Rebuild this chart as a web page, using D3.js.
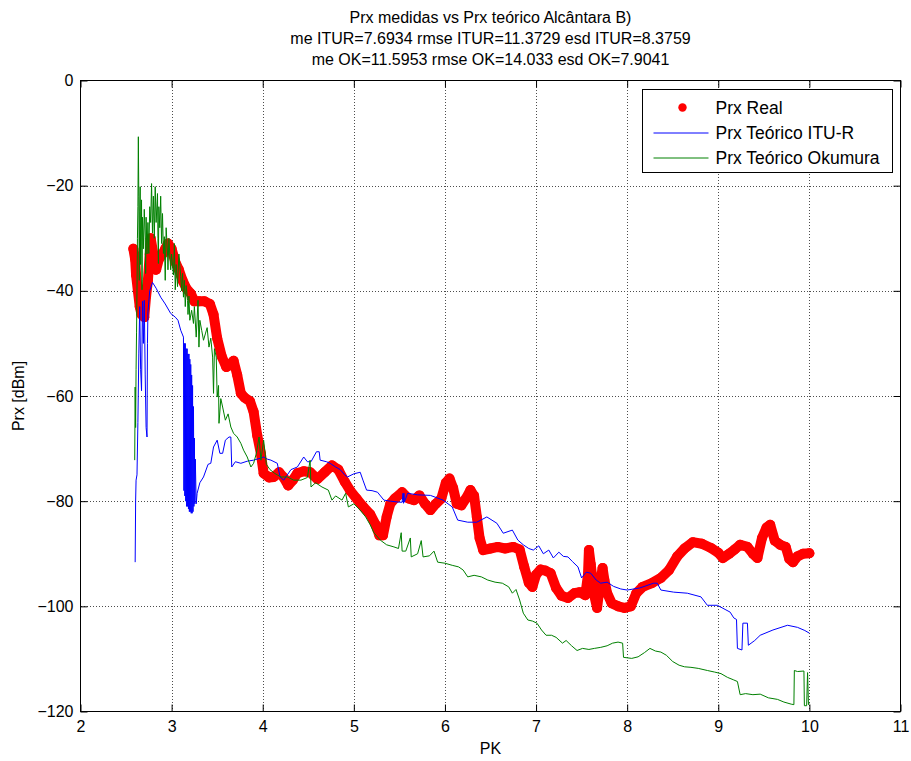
<!DOCTYPE html>
<html>
<head>
<meta charset="utf-8">
<script src="https://cdn.jsdelivr.net/npm/d3@7"></script>
<style>
  body { margin: 0; background: #fff; }
  text { font-family: "Liberation Sans", Arial, sans-serif; fill: #000; }
</style>
</head>
<body>
<svg id="chart" width="911" height="761"></svg>
<script>
// ---- data ----
const titleLines = [
  "Prx medidas vs Prx teórico Alcântara B)",
  "me ITUR=7.6934 rmse ITUR=11.3729 esd ITUR=8.3759",
  "me OK=11.5953 rmse OK=14.033 esd OK=7.9041"
];
const seriesNames = ["Prx Real", "Prx Teórico ITU-R", "Prx Teórico Okumura"];
const xTicks = [2, 3, 4, 5, 6, 7, 8, 9, 10, 11];
const yTicks = [-120, -100, -80, -60, -40, -20, 0];

// measured received power [PK, dBm]
const realPoints = [
  [2.58,-32],[2.60,-34],[2.61,-37],[2.63,-40],[2.65,-43],[2.67,-44.5],[2.69,-42],[2.70,-45],
  [2.72,-41],[2.74,-38],[2.76,-33],[2.77,-30],[2.80,-33],[2.83,-36],[2.86,-34],[2.90,-33],
  [2.93,-32],[2.96,-31],[3.00,-32],[3.04,-34.5],[3.08,-36],[3.12,-38],[3.16,-39.5],[3.21,-40.5],
  [3.25,-42],[3.30,-42],[3.36,-42],[3.42,-42.5],[3.46,-44.5],[3.50,-49],[3.55,-52.5],[3.60,-54.5],
  [3.64,-54],[3.68,-53.3],[3.72,-56],[3.76,-59.5],[3.80,-60.3],[3.86,-61],[3.90,-63],[3.94,-67.5],
  [3.98,-71],[4.01,-74.7],[4.07,-75.5],[4.12,-75.4],[4.18,-74.5],[4.23,-75.5],[4.28,-77],[4.33,-76],
  [4.38,-74.7],[4.45,-74.3],[4.52,-74.5],[4.60,-75.8],[4.68,-74.5],[4.76,-73.2],[4.83,-74],[4.90,-76.3],
  [4.96,-78],[5.03,-79.5],[5.10,-81],[5.18,-82.5],[5.24,-84.5],[5.28,-86.5],[5.32,-86.5],[5.36,-83],
  [5.40,-80.5],[5.45,-79.5],[5.53,-78.3],[5.60,-79.5],[5.66,-79.8],[5.72,-78.9],[5.78,-80.5],[5.84,-81.7],
  [5.90,-80.5],[5.96,-79.5],[6.01,-76.5],[6.05,-75.7],[6.09,-77.5],[6.13,-80.5],[6.18,-80.8],[6.23,-79.5],
  [6.28,-77.9],[6.32,-79],[6.35,-83],[6.38,-87],[6.42,-89.3],[6.50,-89],[6.58,-88.7],[6.66,-89],
  [6.75,-88.7],[6.82,-89.2],[6.87,-92.5],[6.92,-95.5],[6.96,-96.3],[7.00,-94],[7.05,-93],[7.10,-93.2],
  [7.16,-93.7],[7.22,-96.5],[7.28,-98],[7.35,-98.4],[7.42,-97.5],[7.48,-97.3],[7.54,-97.9],[7.57,-94],
  [7.58,-89.3],[7.60,-92],[7.62,-95],[7.64,-98],[7.67,-100.3],[7.70,-96],[7.73,-92.7],[7.75,-95],
  [7.78,-97.5],[7.83,-99.4],[7.90,-100],[7.97,-100.3],[8.04,-100],[8.10,-97.5],[8.17,-96.3],[8.27,-95.6],
  [8.37,-94.6],[8.46,-93.1],[8.55,-90.5],[8.63,-89],[8.72,-87.8],[8.82,-88.1],[8.92,-88.9],[9.00,-89.8],
  [9.05,-90.8],[9.12,-90],[9.18,-89.2],[9.24,-88.3],[9.32,-88.7],[9.38,-90],[9.43,-90.8],[9.48,-87],
  [9.53,-85],[9.57,-84.5],[9.62,-87.5],[9.68,-88.3],[9.74,-88.7],[9.78,-91],[9.82,-91.6],[9.87,-90.5],
  [9.93,-90],[10.0,-89.9]
];

// ITU-R prediction [PK, dBm]
const ituPoints = [
  [2.600,-91.6],[2.605,-80],[2.610,-76],[2.620,-75],[2.630,-65],[2.640,-52],[2.650,-43],[2.660,-55],
  [2.670,-59],[2.680,-42],[2.690,-50],[2.700,-41.8],[2.710,-56],[2.720,-66],[2.730,-67.8],[2.735,-50],
  [2.740,-44],[2.760,-40],[2.790,-38.4],[2.830,-39.5],[2.880,-41.2],[2.930,-42.5],[2.990,-44.3],[3.040,-45],
  [3.070,-45.6],[3.100,-47.5],[3.130,-48.8],
  [3.135,-78],[3.140,-50],[3.145,-79],[3.150,-50],[3.155,-80],[3.160,-51],[3.165,-81],[3.170,-51],
  [3.175,-81],[3.180,-52],[3.185,-81.5],[3.190,-52],[3.195,-82],[3.200,-53],[3.205,-82],[3.210,-54],
  [3.215,-82.3],[3.220,-56],[3.225,-82.3],[3.230,-58],[3.235,-82],[3.240,-62],[3.245,-81],[3.250,-68],
  [3.255,-80.5],[3.260,-72],
  [3.270,-80.5],[3.280,-78.5],[3.310,-76.5],[3.350,-75.4],[3.400,-73],[3.430,-72.8],[3.460,-69.7],[3.500,-68.4],
  [3.530,-70.9],[3.560,-70.9],[3.590,-68.4],[3.630,-67.8],[3.650,-67.8],[3.660,-73.5],[3.700,-72.5],[3.760,-72.8],
  [3.830,-72.4],[3.900,-72.2],[3.980,-71.8],[4.010,-71.6],[4.050,-72],[4.090,-72.2],[4.160,-72.8],[4.190,-75.4],
  [4.230,-76],[4.270,-75],[4.310,-74],[4.380,-73.5],[4.450,-71.6],[4.490,-72.5],[4.530,-72.5],[4.590,-70.6],
  [4.620,-70.6],[4.630,-72.2],[4.700,-72.5],[4.740,-72.8],[4.800,-73.5],[4.850,-74],[4.900,-75],[4.930,-75.4],
  [5.000,-74.8],[5.070,-74.5],[5.100,-76],[5.140,-77.9],[5.200,-78],[5.260,-78.3],[5.330,-79.8],[5.400,-80],
  [5.500,-80.2],[5.530,-80.2],[5.540,-78.5],[5.545,-80.4],[5.550,-78.5],[5.555,-80.2],[5.590,-78.5],[5.700,-78.8],
  [5.840,-78.9],[5.980,-79.8],[6.080,-81.1],[6.140,-83.6],[6.250,-84],[6.350,-84],[6.460,-83],[6.570,-84.2],
  [6.640,-86.1],[6.740,-85.5],[6.800,-87.4],[6.860,-88.3],[6.920,-89],[6.970,-89.3],[7.030,-88.5],[7.080,-90],
  [7.140,-89.3],[7.190,-90.8],[7.250,-89.7],[7.300,-90.5],[7.350,-90.6],[7.400,-91.5],[7.460,-92.5],[7.500,-94.6],
  [7.550,-93.5],[7.600,-93.7],[7.660,-95],[7.710,-95.6],[7.780,-95.4],[7.850,-96.2],[7.930,-96.7],[8.000,-96.9],
  [8.140,-96.5],[8.290,-95.6],[8.330,-95.6],[8.370,-96.9],[8.510,-97.3],[8.660,-97.5],[8.810,-98.2],[8.880,-99.8],
  [8.990,-99.8],[9.130,-101.1],[9.170,-102.2],[9.200,-102.5],[9.210,-108],[9.260,-108.3],[9.270,-103.2],[9.320,-103.2],
  [9.330,-107.4],[9.400,-106.5],[9.460,-105.5],[9.600,-104.5],[9.760,-103.6],[9.870,-104],[9.950,-104.6],[10.00,-105.1]
];

// Okumura prediction [PK, dBm]
const okuPoints = [
  [2.595,-72.2],[2.600,-58.3],[2.605,-66],[2.610,-55],[2.615,-48],[2.620,-40],[2.625,-30],[2.630,-24],
  [2.635,-10.7],[2.640,-22],[2.645,-38],[2.650,-25],[2.655,-20.2],[2.660,-35],[2.670,-22.7],[2.675,-39.8],
  [2.680,-26],[2.690,-32],[2.700,-24.5],[2.710,-29.8],[2.715,-36.7],[2.720,-26],[2.730,-33],[2.740,-27],
  [2.750,-32.9],[2.760,-24],[2.770,-27],[2.780,-19.6],[2.790,-29],[2.800,-22],[2.810,-30],[2.820,-20.2],
  [2.830,-27],[2.845,-21.5],[2.850,-30],[2.855,-34.8],[2.860,-24],[2.870,-28],[2.880,-22],[2.890,-31],
  [2.900,-25.3],[2.910,-32.9],[2.920,-29.7],[2.930,-38],[2.940,-28],[2.955,-32.8],[2.960,-36],[2.970,-30],
  [2.990,-36],[3.000,-33],[3.020,-37],[3.030,-31],[3.040,-39.8],[3.050,-35],[3.065,-39.2],[3.080,-33],
  [3.100,-37.3],[3.110,-40],[3.120,-36.7],[3.130,-41.2],[3.140,-38],[3.150,-43],[3.160,-39],[3.175,-41.8],
  [3.180,-44.5],[3.190,-41],[3.200,-45.6],[3.220,-43.7],[3.240,-46.2],[3.250,-43],[3.270,-48.8],[3.290,-41.8],
  [3.300,-50.7],[3.310,-45.6],[3.330,-47.5],[3.350,-49.4],[3.370,-48.2],[3.390,-47],[3.410,-50.7],[3.430,-49],
  [3.450,-52.6],[3.460,-59.5],[3.470,-51],[3.490,-52.6],[3.500,-60.2],[3.515,-58],[3.520,-65.2],[3.540,-60.5],
  [3.560,-62.1],[3.590,-64.6],[3.620,-63.4],[3.650,-65.9],[3.680,-67.1],[3.720,-67.8],[3.760,-69],[3.790,-70.3],
  [3.830,-71.6],[3.870,-73.5],[3.900,-72.8],[3.930,-70.9],[3.960,-67.8],[3.980,-72.2],[4.010,-68.4],[4.040,-73],
  [4.080,-74],[4.130,-74.7],[4.200,-75.4],[4.270,-75.4],[4.340,-76],[4.420,-76],[4.490,-75.5],[4.520,-72.2],
  [4.530,-77.3],[4.580,-76.5],[4.650,-77.3],[4.720,-77.9],[4.760,-79.8],[4.800,-79],[4.870,-79.8],[4.910,-78.5],
  [4.940,-81.1],[5.000,-80.5],[5.070,-81.7],[5.130,-83],[5.180,-84.5],[5.220,-86],[5.290,-87.4],[5.360,-88.3],
  [5.440,-88.7],[5.490,-89],[5.520,-86],[5.530,-89.5],[5.570,-89.5],[5.620,-87],[5.630,-90.6],[5.700,-90],
  [5.740,-87.5],[5.760,-90.6],[5.830,-90.4],[5.880,-89.5],[5.920,-91.6],[6.000,-91.8],[6.080,-92.2],[6.150,-92.5],
  [6.200,-93.1],[6.250,-94.4],[6.320,-94.1],[6.400,-94.4],[6.470,-95],[6.550,-95.4],[6.630,-95.6],[6.700,-96.3],
  [6.740,-97.5],[6.780,-96.8],[6.820,-98.8],[6.860,-101.3],[6.910,-102.6],[6.960,-102.8],[7.010,-103.2],[7.060,-104.5],
  [7.110,-105.5],[7.170,-105.5],[7.220,-105.9],[7.290,-107],[7.330,-106.5],[7.390,-107.5],[7.450,-108.4],[7.510,-108],
  [7.580,-108.2],[7.640,-108],[7.710,-107.8],[7.780,-107.5],[7.840,-107],[7.900,-106.8],[7.950,-107],[7.960,-109.7],
  [8.050,-109.9],[8.120,-109.6],[8.190,-108.8],[8.250,-108],[8.310,-108.5],[8.370,-108.7],[8.430,-109.3],[8.500,-110.5],
  [8.570,-111.2],[8.630,-111.5],[8.700,-111.6],[8.780,-111.8],[8.880,-112.2],[8.960,-112.5],[9.030,-112.8],[9.100,-113.5],
  [9.170,-114],[9.210,-114.3],[9.240,-116.8],[9.300,-116.6],[9.380,-116.8],[9.460,-116.7],[9.550,-117.4],[9.650,-117.7],
  [9.720,-118.2],[9.800,-118.6],[9.830,-118.7],[9.835,-112.2],[9.870,-112.4],[9.940,-112.3],[9.945,-118.9],[9.970,-118.9],
  [9.980,-112.6],[9.990,-118.7],[10.00,-118.5]
];

// ---- layout ----
const svg = d3.select("#chart");
const box = { left: 80.5, right: 900.5, top: 80.5, bottom: 711.5 };
const x = d3.scaleLinear().domain([2, 11]).range([box.left, box.right]);
const y = d3.scaleLinear().domain([-120, 0]).range([box.bottom, box.top]);
const colors = { real: "#ff0000", itu: "#0000ff", oku: "#008000" };

// background
svg.append("rect").attr("width", 911).attr("height", 761).attr("fill", "#fff");

// dotted grid
const grid = svg.append("g").attr("stroke", "#4d4d4d").attr("stroke-width", 1)
  .attr("stroke-dasharray", "1,2").attr("shape-rendering", "crispEdges");
grid.selectAll("line.gx").data(xTicks.filter(t => t > 2 && t < 11)).join("line")
  .attr("x1", d => Math.round(x(d)) + 0.5).attr("x2", d => Math.round(x(d)) + 0.5)
  .attr("y1", box.top).attr("y2", box.bottom);
grid.selectAll("line.gy").data(yTicks.filter(t => t > -120 && t < 0)).join("line")
  .attr("class", "gy")
  .attr("y1", d => Math.round(y(d)) + 0.5).attr("y2", d => Math.round(y(d)) + 0.5)
  .attr("x1", box.left).attr("x2", box.right);

// data layers
const plot = svg.append("g");
const line = d3.line().x(d => x(d[0])).y(d => y(d[1]));

plot.append("path").datum(realPoints).attr("d", line)
  .attr("fill", "none").attr("stroke", colors.real).attr("stroke-width", 10)
  .attr("stroke-linejoin", "round").attr("stroke-linecap", "round");
plot.append("g").selectAll("circle").data(realPoints).join("circle")
  .attr("cx", d => x(d[0])).attr("cy", d => y(d[1])).attr("r", 5).attr("fill", colors.real);

plot.append("path").datum(ituPoints).attr("d", line)
  .attr("fill", "none").attr("stroke", colors.itu).attr("stroke-width", 1);
plot.append("path").datum(okuPoints).attr("d", line)
  .attr("fill", "none").attr("stroke", colors.oku).attr("stroke-width", 1);

// axes with inward ticks
const tickLen = 7;
const fontSize = 16;
const axB = svg.append("g").attr("transform", `translate(0,${box.bottom})`)
  .call(d3.axisBottom(x).tickValues(xTicks).tickSize(-tickLen).tickSizeOuter(0).tickPadding(9).tickFormat(d3.format("d")));
const axT = svg.append("g").attr("transform", `translate(0,${box.top})`)
  .call(d3.axisTop(x).tickValues(xTicks).tickSize(-tickLen).tickSizeOuter(0).tickFormat(""));
const axL = svg.append("g").attr("transform", `translate(${box.left},0)`)
  .call(d3.axisLeft(y).tickValues(yTicks).tickSize(-tickLen).tickSizeOuter(0).tickPadding(7).tickFormat(d3.format("d")));
const axR = svg.append("g").attr("transform", `translate(${box.right},0)`)
  .call(d3.axisRight(y).tickValues(yTicks).tickSize(-tickLen).tickSizeOuter(0).tickFormat(""));
[axB, axT, axL, axR].forEach(g => {
  g.select(".domain").remove();
  g.selectAll("line").attr("stroke", "#000").attr("stroke-width", 1);
  g.selectAll("text").attr("font-size", fontSize).attr("font-family", "Liberation Sans, Arial, sans-serif").attr("fill", "#000");
});

// axes box
svg.append("rect").attr("x", box.left).attr("y", box.top)
  .attr("width", box.right - box.left).attr("height", box.bottom - box.top)
  .attr("fill", "none").attr("stroke", "#000").attr("stroke-width", 1);

// axis labels
svg.append("text").attr("x", (box.left + box.right) / 2).attr("y", 754)
  .attr("text-anchor", "middle").attr("font-size", fontSize).text("PK");
svg.append("text").attr("transform", `translate(24,${(box.top + box.bottom) / 2}) rotate(-90)`)
  .attr("text-anchor", "middle").attr("font-size", fontSize).text("Prx [dBm]");

// title, three centred lines
svg.append("g").selectAll("text").data(titleLines).join("text")
  .attr("x", (box.left + box.right) / 2).attr("y", (d, i) => 23 + i * 21)
  .attr("text-anchor", "middle").attr("font-size", 16)
  .text(d => d);

// legend
const lg = svg.append("g").attr("transform", "translate(642.5,89.5)");
lg.append("rect").attr("width", 250).attr("height", 83)
  .attr("fill", "#fff").attr("stroke", "#000").attr("stroke-width", 1);
const rowY = [18, 43.5, 68.5];
lg.append("circle").attr("cx", 40).attr("cy", rowY[0]).attr("r", 4.2).attr("fill", colors.real);
lg.append("line").attr("x1", 11).attr("x2", 66).attr("y1", rowY[1]).attr("y2", rowY[1])
  .attr("stroke", colors.itu).attr("stroke-width", 1);
lg.append("line").attr("x1", 11).attr("x2", 66).attr("y1", rowY[2]).attr("y2", rowY[2])
  .attr("stroke", colors.oku).attr("stroke-width", 1);
lg.selectAll("text.lab").data(seriesNames).join("text")
  .attr("x", 73).attr("y", (d, i) => rowY[i]).attr("dy", "0.35em")
  .attr("font-size", 17.5).text(d => d);
</script>
</body>
</html>
